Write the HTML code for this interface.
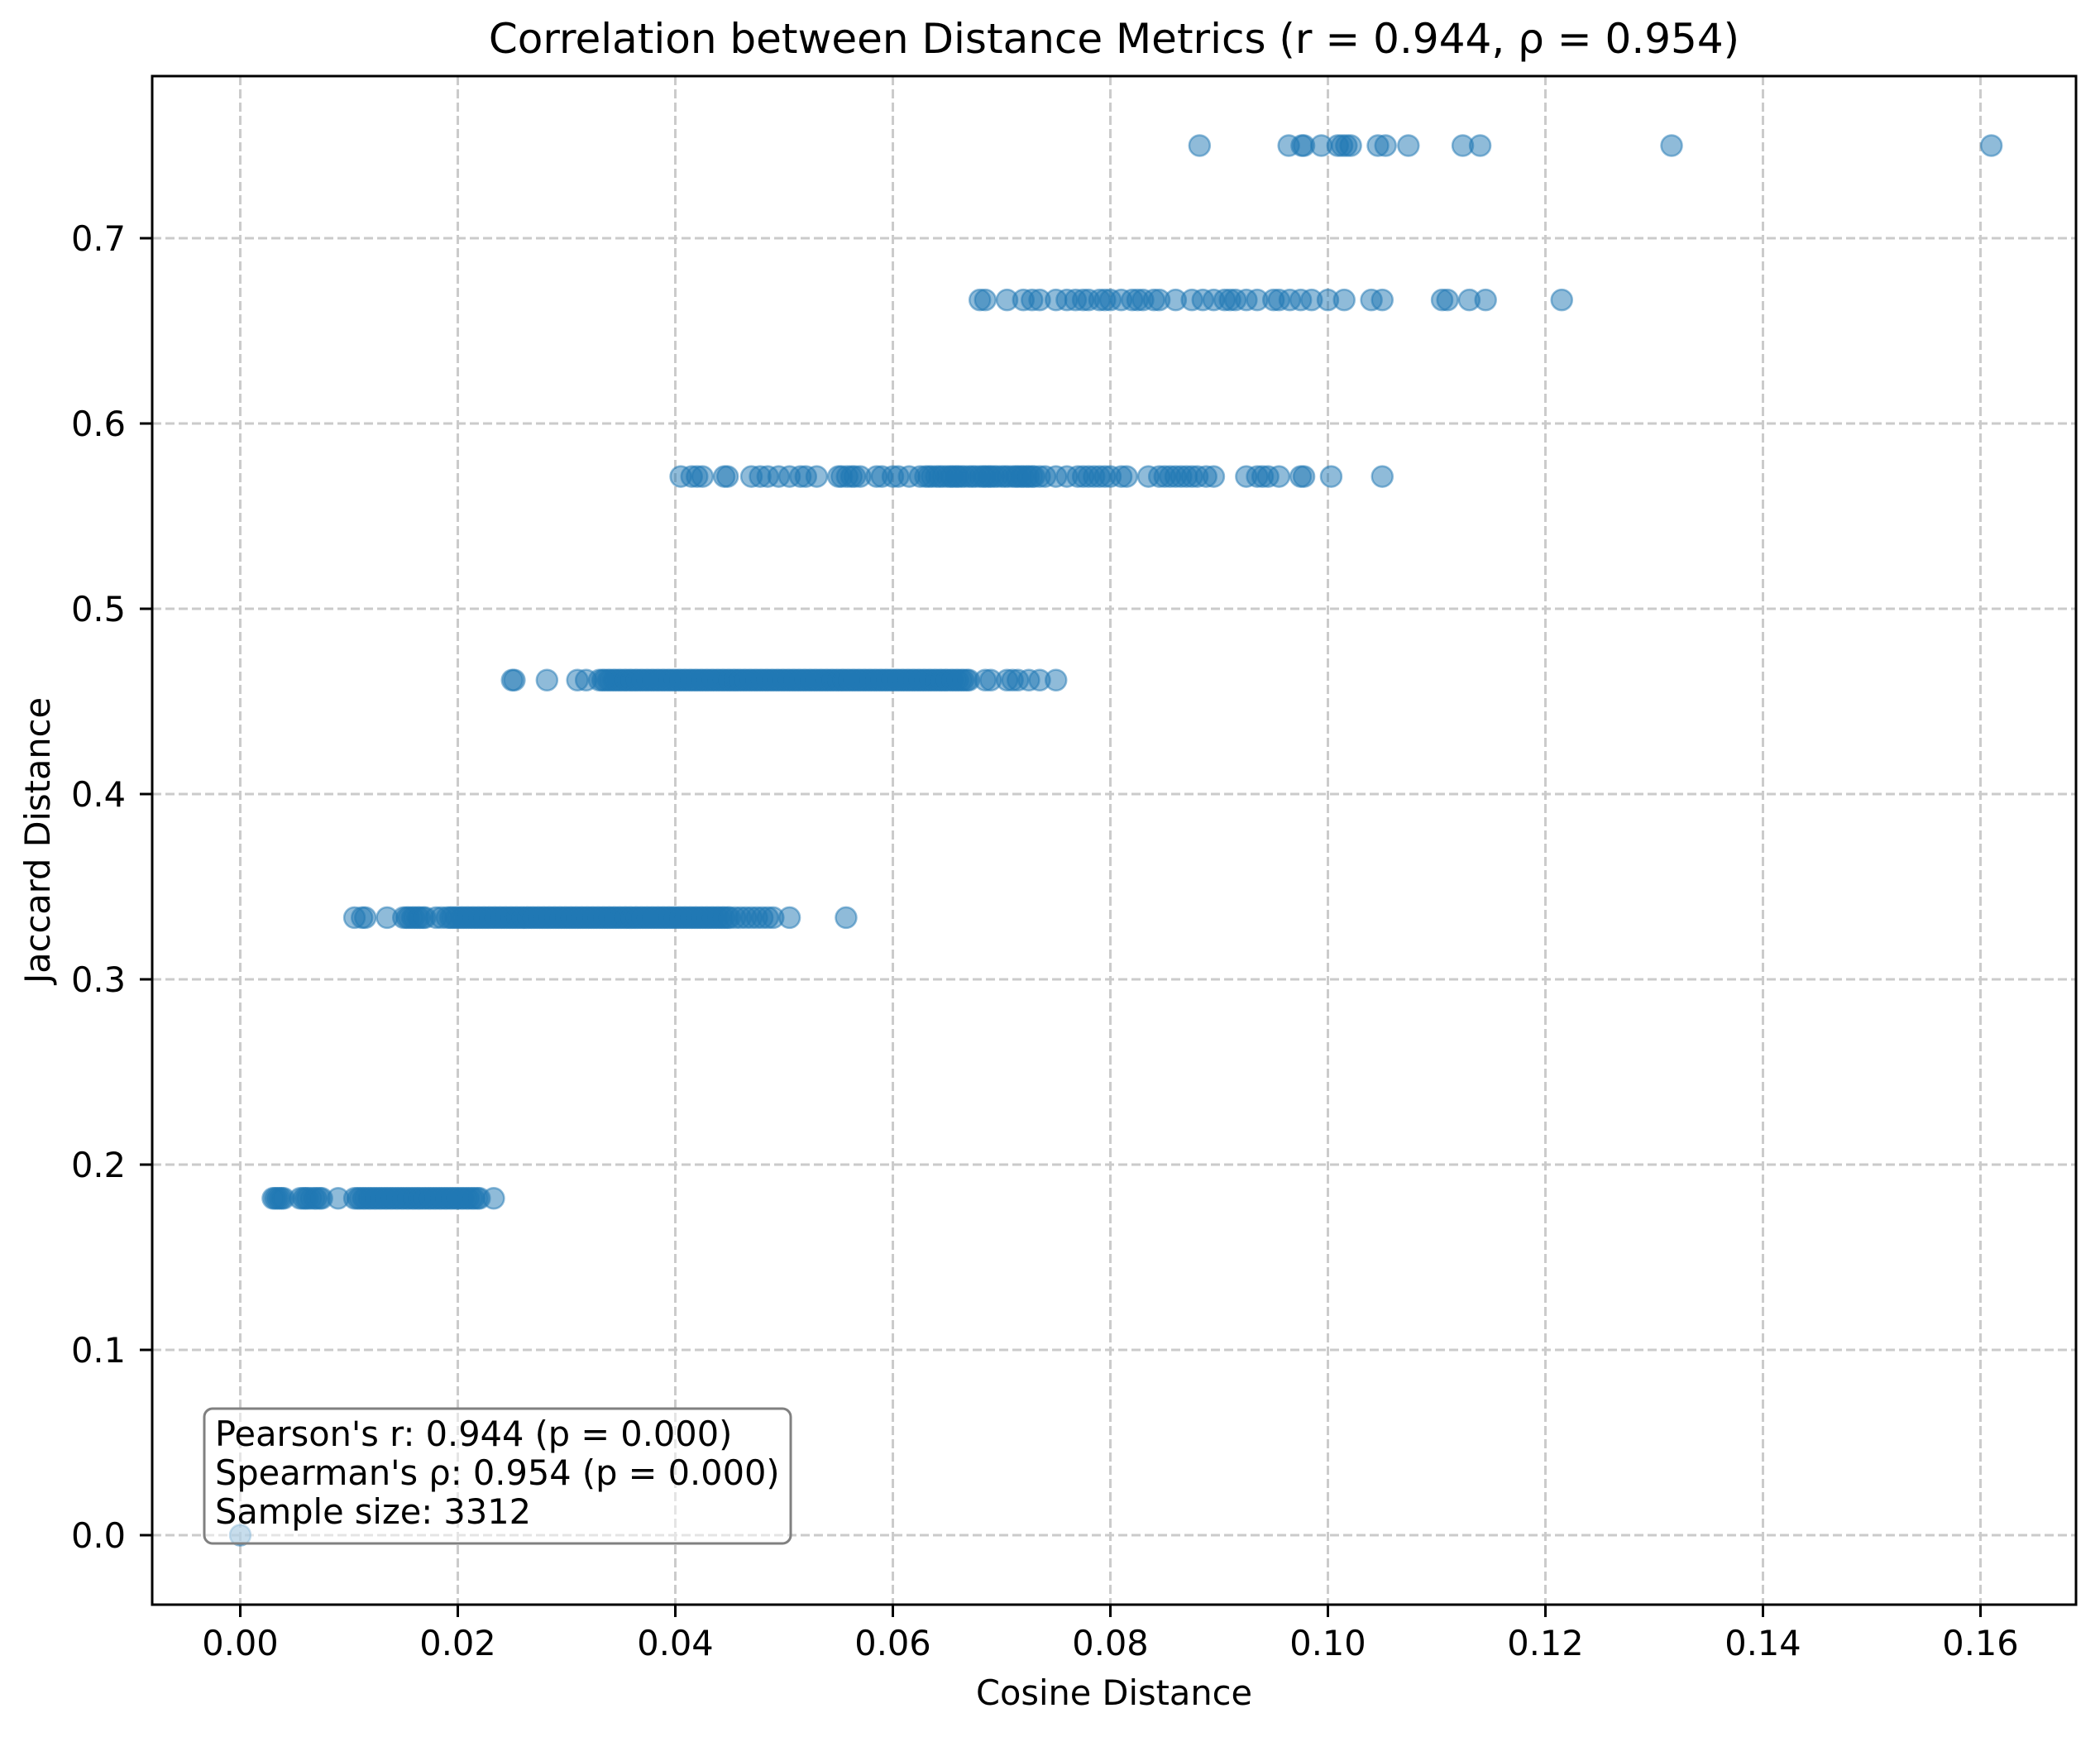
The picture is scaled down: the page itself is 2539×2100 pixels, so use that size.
<!DOCTYPE html>
<html><head><meta charset="utf-8"><style>
html,body{margin:0;padding:0;background:#fff}
svg{display:block}
text{font-family:"DejaVu Sans","Liberation Sans",sans-serif;fill:#000}
</style></head><body>
<svg id="chart" width="2539" height="2100" viewBox="0 0 2539 2100">
<rect x="0" y="0" width="2539" height="2100" fill="#fff"/>
<g id="grid"></g>
<g id="pts"></g>
<rect x="184" y="92" width="2326" height="1848" fill="none" stroke="#000" stroke-width="3"/>
<g id="xt"></g>
<g id="yt"></g>
<text x="1347" y="64" font-size="50" text-anchor="middle">Correlation between Distance Metrics (r = 0.944, ρ = 0.954)</text>
<text x="1347" y="2061" font-size="41.5" text-anchor="middle">Cosine Distance</text>
<text transform="translate(60,1016) rotate(-90)" font-size="41.5" text-anchor="middle">Jaccard Distance</text>
<g>
<rect x="247" y="1703" width="709" height="163" rx="10" fill="#fff" fill-opacity="0.5" stroke="#808080" stroke-width="3"/>
<text x="260" y="1748" font-size="41.5">Pearson's r: 0.944 (p = 0.000)</text>
<text x="260" y="1795" font-size="41.5">Spearman's ρ: 0.954 (p = 0.000)</text>
<text x="260" y="1842" font-size="41.5">Sample size: 3312</text>
</g>
</svg>
<script>
const xTicks=[0,0.02,0.04,0.06,0.08,0.10,0.12,0.14,0.16];
const xTickLabels=["0.00","0.02","0.04","0.06","0.08","0.10","0.12","0.14","0.16"];
const yTicks=[0,0.1,0.2,0.3,0.4,0.5,0.6,0.7];
const yTickLabels=["0.0","0.1","0.2","0.3","0.4","0.5","0.6","0.7"];
const levels=[0,0.1818,0.3333,0.4615,0.5714,0.6667,0.75];
const xs0=[0];
const xs1=[0.003,0.0032,0.0034,0.0036,0.0038,0.004,0.0055,0.0058,0.006,0.0062,0.0065,0.0068,0.007,0.0073,0.0075,0.009,0.0105,0.0108,0.011,0.0113,0.0115,0.0118,0.012,0.0123,0.0125,0.0128,0.013,0.0133,0.0135,0.0138,0.014,0.0143,0.0145,0.0148,0.015,0.0153,0.0155,0.0158,0.016,0.0163,0.0165,0.0168,0.017,0.0173,0.0175,0.0178,0.018,0.0183,0.0185,0.0188,0.019,0.0193,0.0195,0.0198,0.02,0.0203,0.0205,0.0208,0.021,0.0213,0.0215,0.0218,0.022,0.0233];
const xs2=[0.0105,0.0112,0.0115,0.0135,0.015,0.0153,0.0155,0.0158,0.016,0.0163,0.0165,0.0168,0.017,0.018,0.0185,0.019,0.0193,0.0195,0.0198,0.02,0.0203,0.0205,0.0208,0.021,0.0213,0.0215,0.0218,0.022,0.0223,0.0225,0.0228,0.023,0.0233,0.0235,0.0238,0.024,0.0243,0.0245,0.0248,0.025,0.0253,0.0255,0.0258,0.026,0.0263,0.0265,0.0268,0.027,0.0273,0.0275,0.0278,0.028,0.0283,0.0285,0.0288,0.029,0.0293,0.0295,0.0298,0.03,0.0303,0.0305,0.0308,0.031,0.0313,0.0315,0.0318,0.032,0.0323,0.0325,0.0328,0.033,0.0333,0.0335,0.0338,0.034,0.0343,0.0345,0.0348,0.035,0.0353,0.0355,0.0358,0.036,0.0363,0.0365,0.0368,0.037,0.0373,0.0375,0.0378,0.038,0.0383,0.0385,0.0388,0.039,0.0393,0.0395,0.0398,0.04,0.0403,0.0405,0.0408,0.041,0.0413,0.0415,0.0418,0.042,0.0423,0.0425,0.0428,0.043,0.0433,0.0435,0.0438,0.044,0.0443,0.0445,0.0448,0.045,0.0455,0.046,0.0465,0.047,0.0475,0.048,0.0485,0.049,0.0505,0.0557];
const xs3=[0.025,0.0252,0.0282,0.031,0.0318,0.033,0.0333,0.0335,0.0338,0.034,0.0343,0.0345,0.0348,0.035,0.0353,0.0355,0.0358,0.036,0.0363,0.0365,0.0368,0.037,0.0373,0.0375,0.0378,0.038,0.0383,0.0385,0.0388,0.039,0.0393,0.0395,0.0398,0.04,0.0403,0.0405,0.0408,0.041,0.0413,0.0415,0.0418,0.042,0.0423,0.0425,0.0428,0.043,0.0433,0.0435,0.0438,0.044,0.0443,0.0445,0.0448,0.045,0.0453,0.0455,0.0458,0.046,0.0463,0.0465,0.0468,0.047,0.0473,0.0475,0.0478,0.048,0.0483,0.0485,0.0488,0.049,0.0493,0.0495,0.0498,0.05,0.0503,0.0505,0.0508,0.051,0.0513,0.0515,0.0518,0.052,0.0523,0.0525,0.0528,0.053,0.0533,0.0535,0.0538,0.054,0.0543,0.0545,0.0548,0.055,0.0553,0.0555,0.0558,0.056,0.0563,0.0565,0.0568,0.057,0.0573,0.0575,0.0578,0.058,0.0583,0.0585,0.0588,0.059,0.0593,0.0595,0.0598,0.06,0.0603,0.0605,0.0608,0.061,0.0613,0.0615,0.0618,0.062,0.0623,0.0625,0.0628,0.063,0.0633,0.0635,0.0638,0.064,0.0643,0.0645,0.0648,0.065,0.0653,0.0655,0.0658,0.066,0.0663,0.0665,0.0668,0.067,0.0685,0.069,0.0705,0.071,0.0715,0.0725,0.0735,0.075];
const xs4=[0.0405,0.0415,0.042,0.0425,0.0445,0.0448,0.047,0.0478,0.0485,0.0495,0.0505,0.0515,0.052,0.053,0.055,0.0553,0.0558,0.0562,0.0565,0.057,0.0585,0.059,0.06,0.0605,0.0615,0.0625,0.063,0.0633,0.0636,0.064,0.0643,0.0646,0.065,0.0653,0.0655,0.0658,0.066,0.0663,0.0666,0.067,0.0673,0.0676,0.068,0.0683,0.0685,0.0688,0.069,0.0693,0.0696,0.07,0.0703,0.0706,0.071,0.0713,0.0715,0.0718,0.072,0.0723,0.0725,0.0728,0.073,0.0735,0.074,0.075,0.076,0.077,0.0775,0.078,0.0785,0.079,0.0795,0.08,0.081,0.0815,0.0835,0.0845,0.085,0.0855,0.086,0.0865,0.087,0.0875,0.088,0.0888,0.0895,0.0925,0.0935,0.094,0.0945,0.0955,0.0975,0.0978,0.1003,0.105];
const xs5=[0.068,0.0685,0.0705,0.072,0.0728,0.0735,0.075,0.076,0.0768,0.0775,0.078,0.079,0.0795,0.08,0.081,0.082,0.0825,0.083,0.084,0.0845,0.086,0.0875,0.0885,0.0895,0.0905,0.091,0.0915,0.0925,0.0935,0.095,0.0955,0.0965,0.0975,0.0985,0.1,0.1015,0.104,0.105,0.1105,0.111,0.113,0.1145,0.1215];
const xs6=[0.0882,0.0964,0.0976,0.0978,0.0994,0.1009,0.1013,0.1017,0.1021,0.1046,0.1053,0.1074,0.1124,0.114,0.1316,0.161];
const series=[xs0,xs1,xs2,xs3,xs4,xs5,xs6];

const X=v=>290.5+v/0.02*263;
const Y=v=>1856-v/0.1*224;
const NS="http://www.w3.org/2000/svg";
function mk(t,a,p){const e=document.createElementNS(NS,t);for(const k in a)e.setAttribute(k,a[k]);p.appendChild(e);return e;}
const grid=document.getElementById('grid'),xt=document.getElementById('xt'),yt=document.getElementById('yt'),pts=document.getElementById('pts');
xTicks.forEach((v,i)=>{
  const g=mk('line',{x1:X(v),x2:X(v),y1:92,y2:1940,stroke:'#cbcbcb','stroke-width':3,'stroke-dasharray':'11 5'},grid);
  
  
  const t=mk('line',{x1:X(v),x2:X(v),y1:1940,y2:1955,stroke:'#000','stroke-width':3},xt);
  
  
  const l=mk('text',{x:X(v),y:2001,'font-size':41.5,'text-anchor':'middle'},xt);
  l.textContent=xTickLabels[i];
  
  
});
yTicks.forEach((v,i)=>{
  const g=mk('line',{x1:184,x2:2510,y1:Y(v),y2:Y(v),stroke:'#cbcbcb','stroke-width':3,'stroke-dasharray':'11 5'},grid);
  
  
  const t=mk('line',{x1:169,x2:184,y1:Y(v),y2:Y(v),stroke:'#000','stroke-width':3},yt);
  
  
  const l=mk('text',{x:152,y:Y(v)+15,'font-size':41.5,'text-anchor':'end'},yt);
  l.textContent=yTickLabels[i];
  
  
});
series.forEach((arr,li)=>{
  arr.forEach(v=>{
    const c=mk('circle',{cx:X(v),cy:Y(levels[li]),r:12.5,fill:'#1f77b4','fill-opacity':0.5,stroke:'#1f77b4','stroke-opacity':0.5,'stroke-width':2.5},pts);
    
    
  });
});
</script>
</body></html>
